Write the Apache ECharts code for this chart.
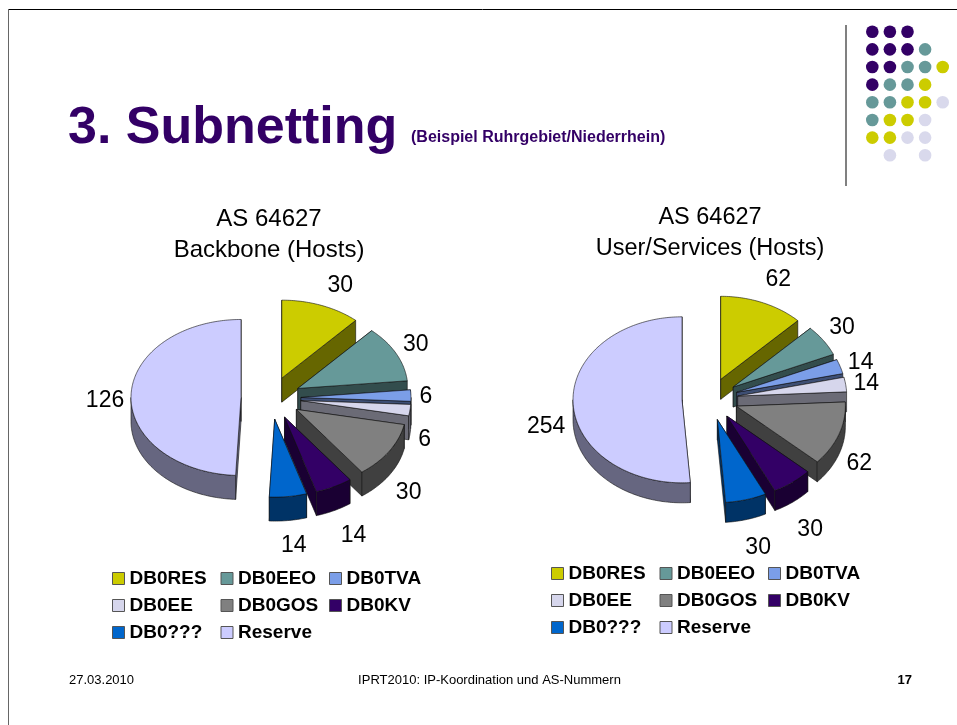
<!DOCTYPE html>
<html>
<head>
<meta charset="utf-8">
<title>Subnetting</title>
<script src="https://cdn.jsdelivr.net/npm/echarts@6/dist/echarts.min.js"></script>
<style>
  html, body { margin: 0; padding: 0; background: #fff; }
  #chart { width: 957px; height: 725px; }
</style>
</head>
<body>
<div id="chart"></div>
<script>
// data
const categories = ["DB0RES", "DB0EEO", "DB0TVA", "DB0EE", "DB0GOS", "DB0KV", "DB0???", "Reserve"];
const backboneHosts = [30, 30, 6, 6, 30, 14, 14, 126];
const userHosts = [62, 30, 14, 14, 62, 30, 30, 254];

const sliceColors = ["#cccc00", "#669999", "#7b9ee8", "#d6d6ec", "#808080", "#330066", "#0066cc", "#ccccff"];

// label tweaks, px from the spot computed on the slice's mid angle
const backboneNudge = [[8, 0], [-7, 1], [-15, 2], [-15, 27], [-6, 30], [6, 30], [2, 28], [4, 6]];
const userNudge = [[4, -1], [-7, 0], [-9, 3], [-10, 2], [-9, 22], [-1, 29], [4, 25], [4, 23]];

const font = '"Liberation Sans", Arial, sans-serif';
const purple = "#330066";

// 3d look: ellipse + extrusion, the library pie can't tilt
function darker(color) {
  const c = echarts.color.parse(color);
  return "rgb(" + [c[0] / 2, c[1] / 2, c[2] / 2].map(Math.round).join(",") + ")";
}

function tiltedSlice(pie, idx) {
  return function (params, api) {
    const start = api.value(0) / api.value(2) * 360;
    const end = (api.value(0) + api.value(1)) / api.value(2) * 360;
    const mid = (start + end) / 2 * Math.PI / 180;
    const pt = (deg, r) => {
      const a = deg * Math.PI / 180;
      return [ox + Math.sin(a) * r, oy - Math.cos(a) * r * pie.ry / pie.rx];
    };
    const ox = pie.cx + Math.sin(mid) * pie.explode;
    const oy = pie.cy - Math.cos(mid) * pie.explode * pie.ry / pie.rx;
    const down = p => [p[0], p[1] + pie.depth];

    const arc = [];
    for (let d = start; d < end; d += 1) arc.push(pt(d, pie.rx));
    arc.push(pt(end, pie.rx));

    const color = sliceColors[idx];
    const wall = darker(color);
    const line = { stroke: "#111", lineWidth: 0.6 };
    const poly = (points, fill) => ({
      type: "polygon",
      shape: { points: points },
      style: Object.assign({ fill: fill }, line)
    });
    const quad = (a, b) => poly([a, b, down(b), down(a)], wall);

    const children = [quad([ox, oy], arc[0]), quad([ox, oy], arc[arc.length - 1])];

    // outer wall, only the front half of the rim shows
    const front = [];
    for (let d = Math.max(start, 90); d < Math.min(end, 270); d += 1) front.push(pt(d, pie.rx));
    if (front.length) {
      front.push(pt(Math.min(end, 270), pie.rx));
      children.push(poly(front.concat(front.map(down).reverse()), wall));
    }

    children.push(poly([[ox, oy]].concat(arc), color));

    const spot = [
      pie.cx + Math.sin(mid) * pie.labelR + pie.nudge[idx][0],
      pie.cy - Math.cos(mid) * pie.labelR * pie.ry / pie.rx + pie.nudge[idx][1]
    ];
    children.push({
      type: "text",
      z2: 50,
      style: {
        text: String(api.value(1)),
        x: spot[0],
        y: spot[1],
        fill: "#000",
        font: "23px " + font,
        align: "center",
        verticalAlign: "middle"
      }
    });
    return { type: "group", children: children };
  };
}

const pies = [
  { values: backboneHosts, nudge: backboneNudge, cx: 271, cy: 398, rx: 110, ry: 78, depth: 24, explode: 30, labelR: 170 },
  { values: userHosts, nudge: userNudge, cx: 710, cy: 399, rx: 109, ry: 83, depth: 20, explode: 28, labelR: 168 }
];

const series = [];
pies.forEach(pie => {
  const total = pie.values.reduce((a, b) => a + b, 0);
  let sum = 0;
  pie.values.forEach((v, i) => {
    series.push({
      type: "custom",
      name: categories[i],
      coordinateSystem: "none",
      silent: true,
      itemStyle: { color: sliceColors[i] },
      data: [[sum, v, total]],
      renderItem: tiltedSlice(pie, i)
    });
    sum += v;
  });
});

const legendBase = {
  orient: "horizontal",
  data: categories,
  width: 330,
  icon: "rect",
  itemWidth: 12,
  itemHeight: 12,
  itemGap: 8,
  selectedMode: false,
  itemStyle: { borderColor: "#555", borderWidth: 1 },
  textStyle: { color: "#000", fontFamily: font, fontWeight: "bold", fontSize: 19, width: 83, height: 18, lineHeight: 18 }
};

// slide furniture
const dotRows = ["PPP", "PPPT", "PPTTY", "PTTY", "TTYYL", "TYYL", "YYLL", " L L"];
const dotColors = { P: purple, T: "#669999", Y: "#cccc00", L: "#d9d9ec" };
const dots = [];
dotRows.forEach((row, r) => {
  row.split("").forEach((k, c) => {
    if (k === " ") return;
    dots.push({
      type: "circle",
      shape: { cx: 872.3 + c * 17.6, cy: 31.7 + r * 17.65, r: 6.3 },
      style: { fill: dotColors[k] }
    });
  });
});

function slideText(text, x, y, size, color, weight, align) {
  return {
    type: "text",
    style: {
      text: text, x: x, y: y, fill: color,
      font: (weight || "normal") + " " + size + "px " + font,
      align: align || "left", verticalAlign: "middle"
    }
  };
}

const chart = echarts.init(document.getElementById("chart"), null, { renderer: "canvas" });
chart.setOption({
  animation: false,
  backgroundColor: "#fff",
  title: [
    {
      text: "AS 64627\nBackbone (Hosts)", left: 264, top: 199, textAlign: "center",
      textStyle: { fontFamily: font, fontWeight: "normal", fontSize: 24, lineHeight: 31, color: "#000" }
    },
    {
      text: "AS 64627\nUser/Services (Hosts)", left: 705, top: 197, textAlign: "center",
      textStyle: { fontFamily: font, fontWeight: "normal", fontSize: 23.5, lineHeight: 31, color: "#000" }
    }
  ],
  legend: [
    Object.assign({ left: 107, top: 564 }, legendBase),
    Object.assign({ left: 546, top: 559 }, legendBase)
  ],
  series: series,
  graphic: [
    { type: "line", shape: { x1: 8, y1: 9.5, x2: 957, y2: 9.5 }, style: { stroke: "#000", lineWidth: 1 } },
    { type: "line", shape: { x1: 8.5, y1: 9, x2: 8.5, y2: 725 }, style: { stroke: "#666", lineWidth: 1 } },
    { type: "line", shape: { x1: 846, y1: 25, x2: 846, y2: 186 }, style: { stroke: "#808080", lineWidth: 2 } },
    ...dots,
    slideText("3. Subnetting", 68, 129, 52, purple, "bold"),
    slideText("(Beispiel Ruhrgebiet/Niederrhein)", 411, 137.5, 16, purple, "bold"),
    slideText("27.03.2010", 69, 680, 13, "#000"),
    slideText("IPRT2010: IP-Koordination und AS-Nummern", 489.5, 680, 13, "#000", "normal", "center"),
    slideText("17", 912, 680, 13, "#000", "bold", "right")
  ]
});
</script>
</body>
</html>
